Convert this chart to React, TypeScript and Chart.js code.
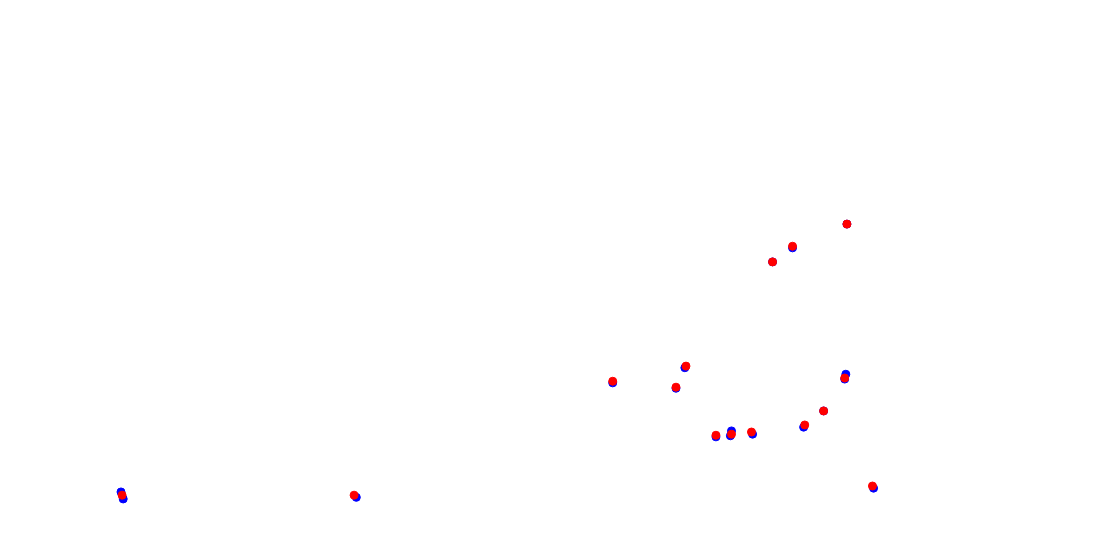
import React, { useEffect, useRef } from "react";
import { Chart, registerables } from "chart.js";

Chart.register(...registerables);

const blueX = [1.09, 1.11, 3.21, 5.52, 6.09, 6.17, 6.45, 6.59, 6.58, 6.78, 7.24, 7.62, 7.61, 7.14, 7.87, 6.96, 7.63, 7.42];
const blueY = [0.89, 0.76, 0.79, 2.91, 2.81, 3.19, 1.91, 2.02, 1.93, 1.96, 2.09, 3.07, 2.98, 5.41, 0.96, 5.15, 5.85, 2.39];

const redX = [1.10, 3.19, 5.52, 6.09, 6.18, 6.45, 6.59, 6.77, 7.25, 7.61, 7.42, 6.96, 7.14, 7.63, 7.86];
const redY = [0.83, 0.83, 2.94, 2.83, 3.22, 1.94, 1.96, 2.00, 2.13, 3.00, 2.39, 5.15, 5.44, 5.85, 1.00];

const toPoints = (xs: number[], ys: number[]) => xs.map((x, i) => ({ x, y: ys[i] }));

export default function App() {
  const ref = useRef<HTMLCanvasElement | null>(null);
  useEffect(() => {
    if (!ref.current) return;
    const chart = new Chart(ref.current, {
      type: "scatter",
      data: {
        datasets: [
          {
            label: "red",
            data: toPoints(redX, redY),
            backgroundColor: "#ff0000",
            borderColor: "#ff0000",
            pointRadius: 4,
            borderWidth: 1,
          },
          {
            label: "blue",
            data: toPoints(blueX, blueY),
            backgroundColor: "#0000ff",
            borderColor: "#0000ff",
            pointRadius: 4,
            borderWidth: 1,
          },
        ],
      },
      options: {
        animation: false,
        responsive: true,
        maintainAspectRatio: false,
        layout: { padding: 0, autoPadding: false },
        plugins: { legend: { display: false }, tooltip: { enabled: false } },
        scales: {
          x: { type: "linear", min: 0, max: 10, display: false },
          y: { type: "linear", min: 0, max: 10, display: false },
        },
      },
    });
    return () => chart.destroy();
  }, []);
  return (
    <div style={{ position: "fixed", left: 0, top: 0, width: 1110, height: 540, background: "#fff" }}>
      <canvas ref={ref} />
    </div>
  );
}
